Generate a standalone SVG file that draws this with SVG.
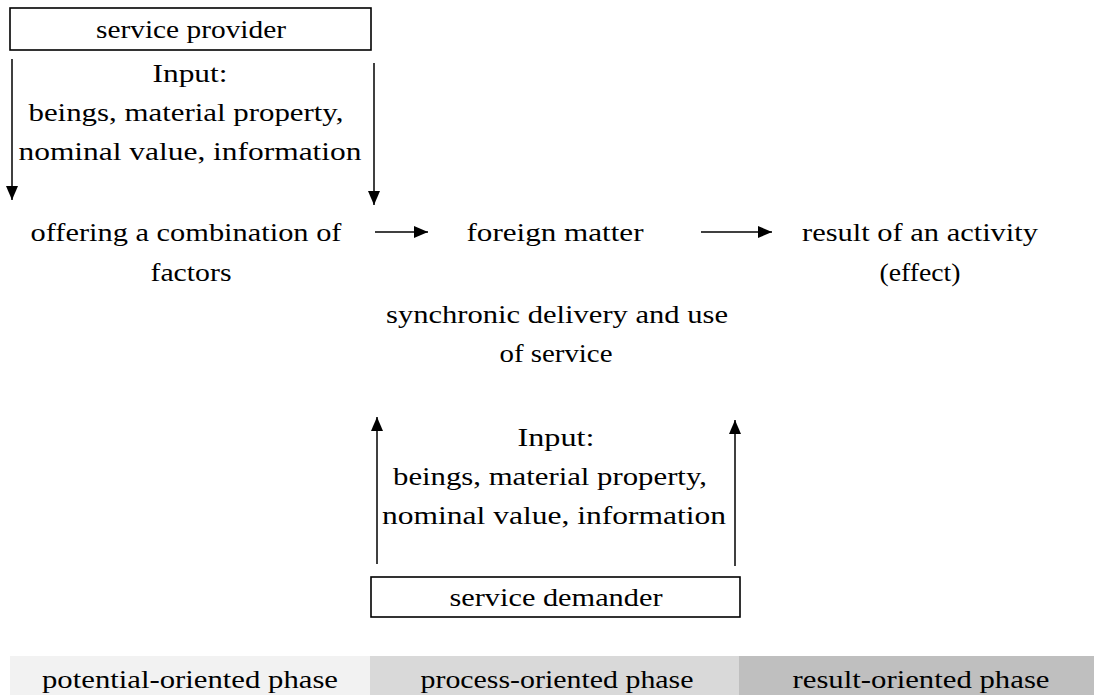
<svg xmlns="http://www.w3.org/2000/svg" width="1094" height="695" viewBox="0 0 1094 695">
  <defs>
    <marker id="arrow" viewBox="0 0 10 10" refX="10" refY="5" markerWidth="10" markerHeight="10" markerUnits="userSpaceOnUse" orient="auto">
      <path d="M0,0 L10,5 L0,10 Z" fill="#000"/>
    </marker>
    <marker id="arrowLong" viewBox="0 0 14 12" refX="14" refY="6" markerWidth="14" markerHeight="12" markerUnits="userSpaceOnUse" orient="auto">
      <path d="M0,0 L14,6 L0,12 Z" fill="#000"/>
    </marker>
  </defs>
  <style>
    text { font-family: "Liberation Serif", "DejaVu Serif", serif; font-size: 25px; fill: #000; }
    .box { fill: #fff; stroke: #000; stroke-width: 1.6; }
    .conn { stroke: #000; stroke-width: 1.5; fill: none; marker-end: url(#arrowLong); }
  </style>
  <rect width="1094" height="695" fill="#fff"/>

  <!-- phase bands -->
  <g id="phases">
    <rect x="10" y="656" width="360" height="39" fill="#f2f2f2"/>
    <rect x="370" y="656" width="369" height="39" fill="#d9d9d9"/>
    <rect x="739" y="656" width="355" height="39" fill="#bfbfbf"/>
    <text x="190" y="688" text-anchor="middle" textLength="296" lengthAdjust="spacingAndGlyphs">potential-oriented phase</text>
    <text x="557" y="688" text-anchor="middle" textLength="273" lengthAdjust="spacingAndGlyphs">process-oriented phase</text>
    <text x="921" y="688" text-anchor="middle" textLength="257" lengthAdjust="spacingAndGlyphs">result-oriented phase</text>
  </g>

  <g id="provider">
    <rect class="box" x="10" y="8" width="361" height="42"/>
    <text x="191" y="38" text-anchor="middle" textLength="190" lengthAdjust="spacingAndGlyphs">service provider</text>
  </g>

  <g id="provider-input">
    <text x="190" y="82" text-anchor="middle" textLength="75" lengthAdjust="spacingAndGlyphs">Input:</text>
    <text x="186" y="121" text-anchor="middle" textLength="315" lengthAdjust="spacingAndGlyphs">beings, material property,</text>
    <text x="190" y="160" text-anchor="middle" textLength="343" lengthAdjust="spacingAndGlyphs">nominal value, information</text>
  </g>

  <g id="factors">
    <text x="186" y="241" text-anchor="middle" textLength="311" lengthAdjust="spacingAndGlyphs">offering a combination of</text>
    <text x="191" y="281" text-anchor="middle" textLength="81" lengthAdjust="spacingAndGlyphs">factors</text>
  </g>

  <g id="foreign-matter">
    <text x="555" y="241" text-anchor="middle" textLength="177" lengthAdjust="spacingAndGlyphs">foreign matter</text>
  </g>

  <g id="result">
    <text x="920" y="241" text-anchor="middle" textLength="236" lengthAdjust="spacingAndGlyphs">result of an activity</text>
    <text x="920" y="281" text-anchor="middle" textLength="81" lengthAdjust="spacingAndGlyphs">(effect)</text>
  </g>

  <g id="synchronic">
    <text x="557" y="323" text-anchor="middle" textLength="342" lengthAdjust="spacingAndGlyphs">synchronic delivery and use</text>
    <text x="556" y="362" text-anchor="middle" textLength="113" lengthAdjust="spacingAndGlyphs">of service</text>
  </g>

  <g id="demander-input">
    <text x="556" y="446" text-anchor="middle" textLength="77" lengthAdjust="spacingAndGlyphs">Input:</text>
    <text x="550" y="485" text-anchor="middle" textLength="314" lengthAdjust="spacingAndGlyphs">beings, material property,</text>
    <text x="554" y="524" text-anchor="middle" textLength="344" lengthAdjust="spacingAndGlyphs">nominal value, information</text>
  </g>

  <g id="demander">
    <rect class="box" x="371" y="577" width="369" height="40"/>
    <text x="556" y="606" text-anchor="middle" textLength="213" lengthAdjust="spacingAndGlyphs">service demander</text>
  </g>

  <!-- connectors -->
  <g id="connectors">
    <line class="conn" x1="12" y1="59" x2="12" y2="200"/>
    <line class="conn" x1="374" y1="63" x2="374" y2="205"/>
    <line class="conn" x1="375" y1="232" x2="428" y2="232"/>
    <line class="conn" x1="701" y1="232" x2="772" y2="232"/>
    <line class="conn" x1="377" y1="564" x2="377" y2="417"/>
    <line class="conn" x1="735" y1="566" x2="735" y2="420"/>
  </g>
</svg>
